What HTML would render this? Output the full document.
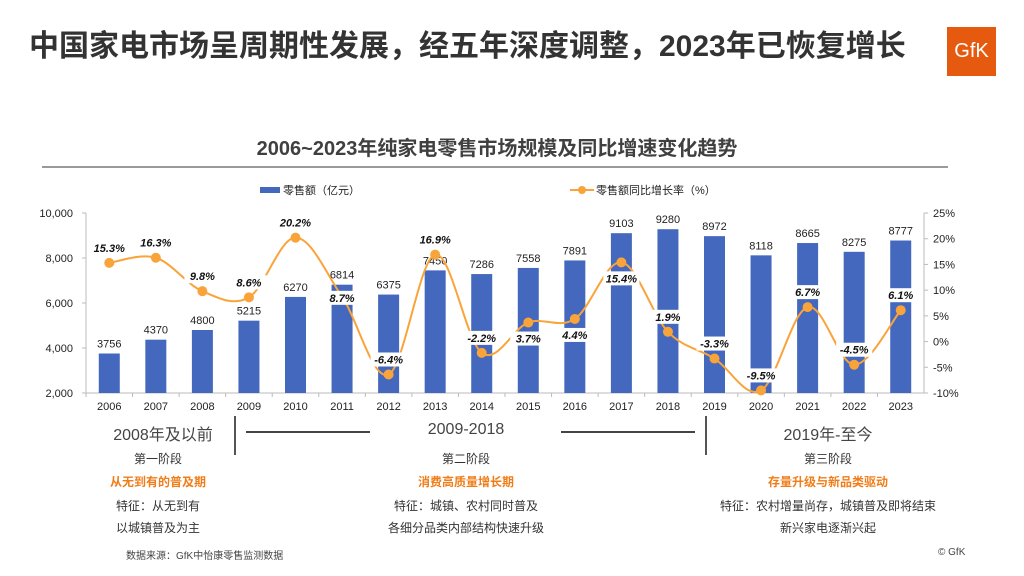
<!DOCTYPE html>
<html><head><meta charset="utf-8"><style>
body{margin:0;width:1024px;height:576px;background:#fff;position:relative;overflow:hidden;font-family:"Liberation Sans","Noto Sans CJK SC",sans-serif;}
.a{position:absolute;white-space:nowrap;}
.c{transform:translateX(-50%);text-align:center;}
</style></head><body>
<div class="a" style="left:29px;top:21px;font-size:30px;font-weight:bold;color:#333;">中国家电市场呈周期性发展，经五年深度调整，2023年已恢复增长</div>
<div class="a" style="left:947px;top:27px;width:49px;height:49px;background:#e55a0f;color:#fff;font-size:20px;line-height:49px;text-align:center;">GfK</div>
<div class="a c" style="left:497px;top:132px;font-size:20px;font-weight:bold;color:#404040;">2006~2023年纯家电零售市场规模及同比增速变化趋势</div>
<div class="a" style="left:42px;top:166px;width:906px;height:2px;background:#9a9a9a;"></div>
<svg class="a" style="left:0;top:0" width="1024" height="576" id="chart"></svg>
<div class="a c" style="left:163px;top:421px;font-size:16px;color:#444;">2008年及以前</div>
<div class="a c" style="left:466px;top:421px;font-size:16px;color:#444;">2009-2018</div>
<div class="a c" style="left:828px;top:421px;font-size:16px;color:#444;">2019年-至今</div>
<div class="a" style="left:234px;top:416px;width:2px;height:39px;background:#555;"></div>
<div class="a" style="left:705px;top:416px;width:2px;height:39px;background:#555;"></div>
<div class="a" style="left:246px;top:431px;width:124px;height:2px;background:#444;"></div>
<div class="a" style="left:561px;top:431px;width:134px;height:2px;background:#444;"></div>
<div class="a c" style="left:158px;top:450px;font-size:12px;color:#333;">第一阶段</div>
<div class="a c" style="left:158px;top:473px;font-size:12px;color:#f07d19;font-weight:bold;">从无到有的普及期</div>
<div class="a c" style="left:158px;top:495px;font-size:12px;color:#333;line-height:22px;">特征：从无到有<br>以城镇普及为主</div>
<div class="a c" style="left:466px;top:450px;font-size:12px;color:#333;">第二阶段</div>
<div class="a c" style="left:466px;top:473px;font-size:12px;color:#f07d19;font-weight:bold;">消费高质量增长期</div>
<div class="a c" style="left:466px;top:495px;font-size:12px;color:#333;line-height:22px;">特征：城镇、农村同时普及<br>各细分品类内部结构快速升级</div>
<div class="a c" style="left:828px;top:450px;font-size:12px;color:#333;">第三阶段</div>
<div class="a c" style="left:828px;top:473px;font-size:12px;color:#f07d19;font-weight:bold;">存量升级与新品类驱动</div>
<div class="a c" style="left:828px;top:495px;font-size:12px;color:#333;line-height:22px;">特征：农村增量尚存，城镇普及即将结束<br>新兴家电逐渐兴起</div>
<div class="a" style="left:126px;top:547px;font-size:10px;color:#444;">数据来源：GfK中怡康零售监测数据</div>
<div class="a" style="left:938px;top:547px;font-size:10px;color:#444;">© GfK</div>
<script>
const years=["2006","2007","2008","2009","2010","2011","2012","2013","2014","2015","2016","2017","2018","2019","2020","2021","2022","2023"];
const sales=[3756,4370,4800,5215,6270,6814,6375,7450,7286,7558,7891,9103,9280,8972,8118,8665,8275,8777];
const growth=[15.3,16.3,9.8,8.6,20.2,8.7,-6.4,16.9,-2.2,3.7,4.4,15.4,1.9,-3.3,-9.5,6.7,-4.5,6.1];
const leftTicks=[2000,4000,6000,8000,10000];
const rightTicks=[-10,-5,0,5,10,15,20,25];
const NS="http://www.w3.org/2000/svg";
const svg=document.getElementById('chart');
const X0=86,X1=924,YT=213,YB=393,bw=(X1-X0)/years.length;
const yL=v=>YB-(v-2000)/8000*(YB-YT);
const yR=v=>YB-(v+10)/35*(YB-YT);
const xC=i=>X0+bw*(i+0.5);
function mk(t,a,txt){const e=document.createElementNS(NS,t);for(const k in a)e.setAttribute(k,a[k]);if(txt!=null)e.textContent=txt;svg.appendChild(e);return e;}
const F='"Liberation Sans","Noto Sans CJK SC",sans-serif';
let e=mk('line',{x1:X0,y1:YT,x2:X0,y2:YB,stroke:'#bbb'});

e=mk('line',{x1:X1,y1:YT,x2:X1,y2:YB,stroke:'#bbb'});

e=mk('line',{x1:X0,y1:YB,x2:X1,y2:YB,stroke:'#bbb'});

leftTicks.forEach(v=>{mk('line',{x1:X0-4,x2:X0,y1:yL(v),y2:yL(v),stroke:'#bbb'});
 e=mk('text',{x:X0-13,y:yL(v)+4,'text-anchor':'end','font-size':11,fill:'#222','font-family':F},v.toLocaleString('en-US'));
 });
rightTicks.forEach(v=>{mk('line',{x1:X1,x2:X1+4,y1:yR(v),y2:yR(v),stroke:'#bbb'});
 e=mk('text',{x:X1+9,y:yR(v)+4,'font-size':11,fill:'#222','font-family':F},v+'%');
 });
years.forEach((y,i)=>{mk('line',{x1:X0+bw*i,x2:X0+bw*i,y1:YB,y2:YB+4,stroke:'#bbb'});
 e=mk('text',{x:xC(i),y:YB+17,'text-anchor':'middle','font-size':11,fill:'#222','font-family':F},y);
 });
sales.forEach((v,i)=>{e=mk('rect',{x:xC(i)-10.5,y:yL(v),width:21,height:YB-yL(v),fill:'#4468bd'});
 
 e=mk('text',{x:xC(i),y:yL(v)-6,'text-anchor':'middle','font-size':11,fill:'#222','font-family':F},v);
 });
const pts=growth.map((v,i)=>[xC(i),yR(v)]);
let d='M'+pts[0][0]+','+pts[0][1];
for(let i=0;i<pts.length-1;i++){const p0=pts[Math.max(0,i-1)],p1=pts[i],p2=pts[i+1],p3=pts[Math.min(pts.length-1,i+2)],t=0.34;
 d+=` C${p1[0]+(p2[0]-p0[0])*t/2},${p1[1]+(p2[1]-p0[1])*t/2} ${p2[0]-(p3[0]-p1[0])*t/2},${p2[1]-(p3[1]-p1[1])*t/2} ${p2[0]},${p2[1]}`;}
e=mk('path',{d:d,fill:'none',stroke:'#f9a43a','stroke-width':2});

const above=[1,1,1,1,1,2,1,1,1,0,0,0,1,1,1,1,1,1];
growth.forEach((v,i)=>{e=mk('circle',{cx:xC(i),cy:yR(v),r:5,fill:'#f9a43a'});
 
 const ty=above[i]==1?yR(v)-11:(above[i]==2?yR(v)+5:yR(v)+20);
 const r=mk('rect',{x:xC(i)-18,y:ty-11,width:36,height:14,fill:'#fff'});
 
 e=mk('text',{x:xC(i),y:ty,'text-anchor':'middle','font-size':11,'font-weight':'bold','font-style':'italic',fill:'#111','font-family':F},v.toFixed(1)+'%');
 });
e=mk('rect',{x:260,y:187,width:20,height:6,fill:'#4468bd'});

e=mk('text',{x:283,y:194,'font-size':11,fill:'#222','font-family':F},'零售额（亿元）');

e=mk('line',{x1:570,x2:594,y1:190,y2:190,stroke:'#f9a43a','stroke-width':2});

mk('circle',{cx:582,cy:190,r:4,fill:'#f9a43a'});
e=mk('text',{x:596,y:194,'font-size':11,fill:'#222','font-family':F},'零售额同比增长率（%）');

</script>
</body></html>
